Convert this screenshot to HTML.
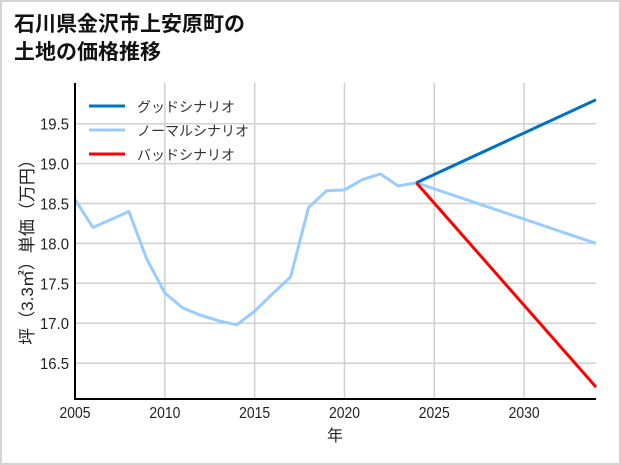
<!DOCTYPE html>
<html><head><meta charset="utf-8"><style>
html,body{margin:0;padding:0;background:#fff}
#wrap{position:relative;width:617px;height:461px;border:2px solid #d4d4d4;background:#fff;overflow:hidden}
text{font-family:"Liberation Sans Narrow","Liberation Sans","Noto Sans CJK JP",sans-serif}
.t{font-family:"Liberation Sans","Noto Sans CJK JP",sans-serif}
</style></head><body>
<div id="wrap">
<svg id="svg" width="621" height="465" viewBox="0 0 621 465" style="position:absolute;left:-2px;top:-2px">
<text class="t" x="14" y="31" font-size="21" font-weight="bold" fill="#111">石川県金沢市上安原町の</text>
<text class="t" x="14" y="59" font-size="21" font-weight="bold" fill="#111">土地の価格推移</text>
<g id="grid"></g><g id="lines"></g><g id="axes"></g>
<text class="t" x="335" y="441" font-size="16" fill="#222" text-anchor="middle">年</text>
<text class="t" transform="translate(33,248) rotate(-90)" font-size="17" fill="#222" text-anchor="middle">坪（3.3㎡）単価（万円）</text>
<g>
<line x1="89" y1="106" x2="125" y2="106" stroke="#0072c6" stroke-width="3"/>
<text class="t" x="137" y="112" font-size="14" fill="#333">グッドシナリオ</text>
<line x1="89" y1="130" x2="125" y2="130" stroke="#99ccff" stroke-width="3"/>
<text class="t" x="137" y="136" font-size="14" fill="#333">ノーマルシナリオ</text>
<line x1="89" y1="154" x2="125" y2="154" stroke="#ff0000" stroke-width="3"/>
<text class="t" x="137" y="160" font-size="14" fill="#333">バッドシナリオ</text>
</g>
</svg></div>
<script>
const years=[2005,2006,2007,2008,2009,2010,2011,2012,2013,2014,2015,2016,2017,2018,2019,2020,2021,2022,2023,2024];
const normalHist=[18.55,18.2,18.3,18.4,17.8,17.38,17.19,17.1,17.03,16.98,17.15,17.37,17.58,18.45,18.66,18.67,18.8,18.87,18.72,18.76];
const projYears=[2024,2034];
const goodProj=[18.76,19.8];
const normalProj=[18.76,18.0];
const badProj=[18.76,16.2];
const xTicks=[2005,2010,2015,2020,2025,2030];
const yTicks=[16.5,17.0,17.5,18.0,18.5,19.0,19.5];
const X0=75,X1=596,Y0=399,Y1=83,xmin=2005,xmax=2034,ymin=16.05,ymax=20.01;
const sx=v=>X0+(v-xmin)/(xmax-xmin)*(X1-X0);
const sy=v=>Y0-(v-ymin)/(ymax-ymin)*(Y0-Y1);
const NS='http://www.w3.org/2000/svg';
function mk(t,a,p){const e=document.createElementNS(NS,t);for(const k in a)e.setAttribute(k,a[k]);p.appendChild(e);return e;}
const grid=document.getElementById('grid'),lines=document.getElementById('lines'),axes=document.getElementById('axes');
xTicks.forEach(t=>{const x=sx(t);
 const g=mk('line',{x1:x,y1:Y1,x2:x,y2:Y0,stroke:'#d0d0d0','stroke-width':1.5},grid);
 
 
 const l=mk('text',{x:x,y:Y0+19,'font-size':16,fill:'#222','text-anchor':'middle',textLength:31,lengthAdjust:'spacingAndGlyphs'},axes);l.textContent=t;
 
 });
yTicks.forEach(t=>{const y=sy(t);
 const g=mk('line',{x1:X0,y1:y,x2:X1,y2:y,stroke:'#d0d0d0','stroke-width':1.5},grid);
 
 
 const l=mk('text',{x:X0-6,y:y+6,'font-size':16,fill:'#222','text-anchor':'end',textLength:29,lengthAdjust:'spacingAndGlyphs'},axes);l.textContent=t.toFixed(1);
 
 });
function path(xs,ys,c,n){const d=xs.map((v,i)=>(i?'L':'M')+sx(v)+','+sy(ys[i])).join('');
 const p=mk('path',{d:d,fill:'none',stroke:c,'stroke-width':3,'stroke-linejoin':'round'},lines);
 
 }
path(years,normalHist,'#99ccff','normal-history-line');
path(projYears,normalProj,'#99ccff','normal-scenario-line');
path(projYears,goodProj,'#0072c6','good-scenario-line');
path(projYears,badProj,'#ff0000','bad-scenario-line');
const ax=mk('path',{d:`M${X0},${Y1}L${X0},${Y0}L${X1},${Y0}`,fill:'none',stroke:'#000','stroke-width':2},axes);


</script>
</body></html>
